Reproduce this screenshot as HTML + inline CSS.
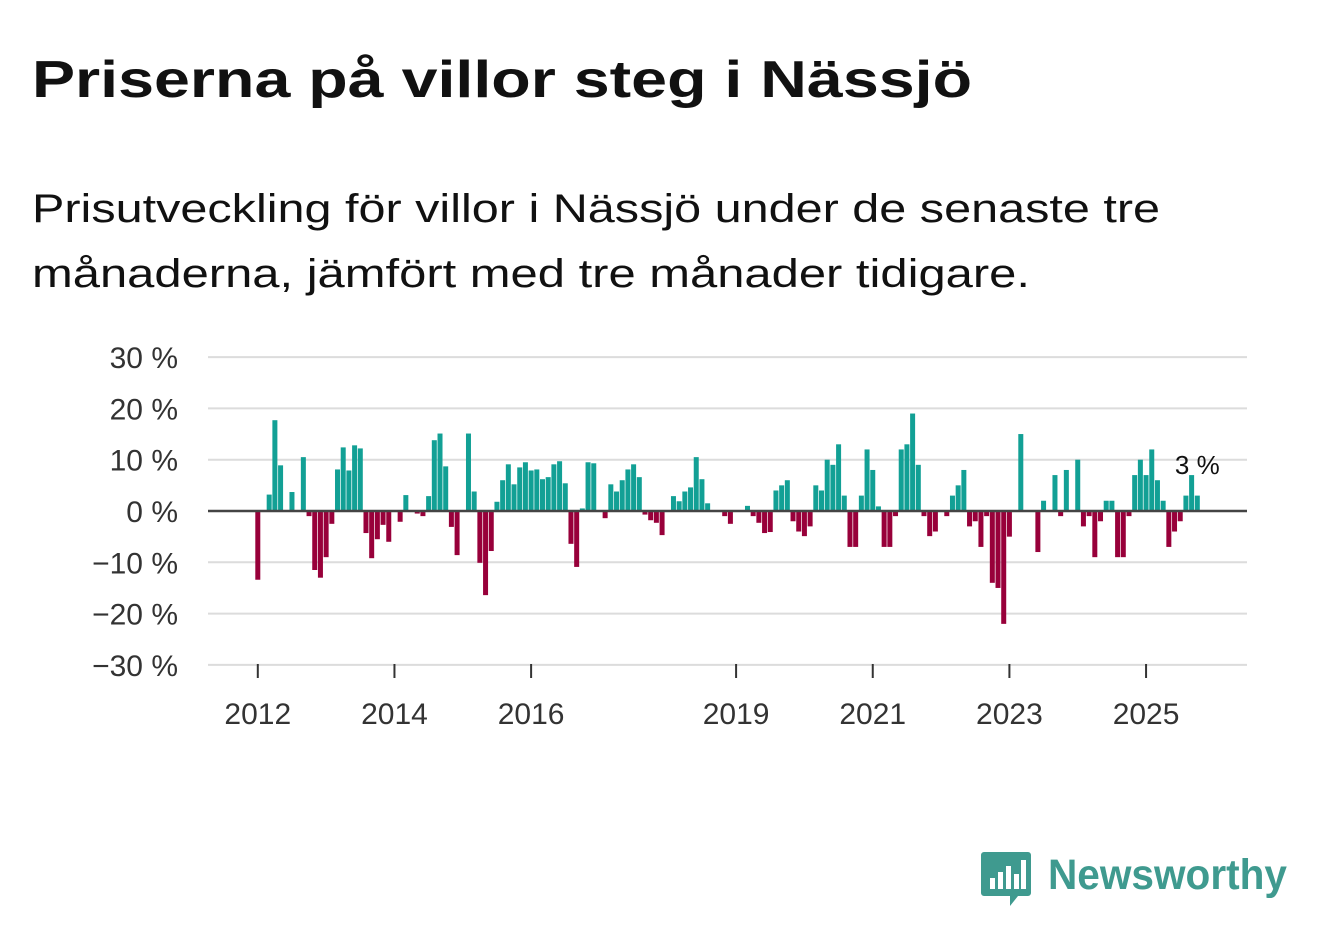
<!DOCTYPE html>
<html><head><meta charset="utf-8"><style>
html,body{margin:0;padding:0;background:#fff;}
svg{display:block;font-family:"Liberation Sans",sans-serif;}
</style></head><body>
<svg id="chart" width="1322" height="939" viewBox="0 0 1322 939" xmlns="http://www.w3.org/2000/svg">
<text x="32" y="97" font-size="52" font-weight="bold" fill="#111" textLength="940" lengthAdjust="spacingAndGlyphs">Priserna på villor steg i Nässjö</text>
<text x="32" y="222" font-size="40" fill="#111" textLength="1128" lengthAdjust="spacingAndGlyphs">Prisutveckling för villor i Nässjö under de senaste tre</text>
<text x="32" y="287" font-size="40" fill="#111" textLength="998" lengthAdjust="spacingAndGlyphs">månaderna, jämfört med tre månader tidigare.</text>
<g id="grid"></g>
<g id="bars"></g>
<g id="axes"></g>
<g>
<path d="M984 852 h44 a3 3 0 0 1 3 3 v38 a3 3 0 0 1 -3 3 h-10 l-8 10 v-10 h-26 a3 3 0 0 1 -3 -3 v-38 a3 3 0 0 1 3 -3z" fill="#3f9a8f"/>
<g fill="#fff"><rect x="990" y="878" width="5" height="11"/><rect x="998" y="872" width="5" height="17"/><rect x="1006" y="866" width="5" height="23"/><rect x="1014" y="874" width="5" height="15"/><rect x="1021" y="860" width="5" height="29"/></g>
<text x="1048" y="889" font-size="43" font-weight="bold" fill="#3f9a8f" textLength="239" lengthAdjust="spacingAndGlyphs">Newsworthy</text>
</g>
</svg>
<script>
const yTicks = [30, 20, 10, 0, -10, -20, -30];
const yTickLabels = ["30 %", "20 %", "10 %", "0 %", "−10 %", "−20 %", "−30 %"];
const xTickYears = [2012, 2014, 2016, 2019, 2021, 2023, 2025];
const xTickLabels = ["2012", "2014", "2016", "2019", "2021", "2023", "2025"];
const startYear = 2012;
const values = [-13.4,null,3.2,17.7,8.9,null,3.7,null,10.5,-1,-11.5,-13,-9,-2.5,8.1,12.4,7.9,12.8,12.2,-4.3,
-9.2,-5.5,-2.7,-6,null,-2.1,3.1,null,-0.5,-1,2.9,13.8,15.1,8.7,-3.1,-8.6,null,15.1,3.8,-10.1,
-16.4,-7.8,1.8,6,9.1,5.2,8.5,9.5,7.9,8.1,6.2,6.6,9.1,9.7,5.4,-6.4,-10.9,0.5,9.5,9.3,
null,-1.4,5.2,3.8,6,8.1,9.1,6.6,-0.7,-1.8,-2.3,-4.7,null,2.9,1.9,3.8,4.6,10.5,6.2,1.5,
null,null,-1,-2.5,null,null,1,-1,-2.3,-4.3,-4.1,4,5,6,-2,-4,-4.9,-3,5,4,
10,9,13,3,-7,-7,3,12,8,0.9,-7,-7,-1,12,13,19,9,-1,-4.9,-4,
null,-1,3,5,8,-3,-2,-7,-1,-14,-15,-22,-5,null,15,null,null,-8,2,null,
7,-1,8,null,10,-3,-1,-9,-2,2,2,-9,-9,-1,7,10,7,12,6,2,
-7,-4,-2,3,7,3];
const lastLabel = "3 %";

const NS = "http://www.w3.org/2000/svg";
const plotL = 208, plotR = 1247;
function yScale(v){ return 511 - v * 5.13; }
function xMonth(k){ return 257.8 + k * 5.694; }
function xYear(y){ return xMonth((y - startYear) * 12); }
function mk(tag, attrs, parent){ const e = document.createElementNS(NS, tag); for (const a in attrs) e.setAttribute(a, attrs[a]); parent.appendChild(e); return e; }

const grid = document.getElementById('grid'), bars = document.getElementById('bars'), axes = document.getElementById('axes');
yTicks.forEach((t, i) => {
  if (t !== 0) {
    const l = mk('line', {x1: plotL, x2: plotR, y1: yScale(t), y2: yScale(t), stroke: '#dcdcdc', 'stroke-width': 2}, grid);
    
    
  }
  const tx = mk('text', {x: 178, y: yScale(t) + 11, 'font-size': 30, fill: '#333', 'text-anchor': 'end'}, axes);
  tx.textContent = yTickLabels[i];
  
  
});
values.forEach((v, k) => {
  if (v === null) return;
  const y0 = yScale(0), y1 = yScale(v);
  const r = mk('rect', {x: xMonth(k) - 2.5, width: 5, y: Math.min(y0, y1), height: Math.abs(y1 - y0), fill: v >= 0 ? '#12a095' : '#98003a'}, bars);
  
  
});
const zl = mk('line', {x1: plotL, x2: plotR, y1: yScale(0), y2: yScale(0), stroke: '#444', 'stroke-width': 2.5}, axes);


xTickYears.forEach((yr, i) => {
  const x = xYear(yr);
  const tk = mk('line', {x1: x, x2: x, y1: 664, y2: 678, stroke: '#333', 'stroke-width': 2}, axes);
  
  
  const tx = mk('text', {x: x, y: 724, 'font-size': 30, fill: '#333', 'text-anchor': 'middle'}, axes);
  tx.textContent = xTickLabels[i];
  
  
});
const lastK = values.length - 1;
const lbl = mk('text', {x: xMonth(lastK), y: 474, 'font-size': 26, fill: '#111', 'text-anchor': 'middle'}, axes);
lbl.textContent = lastLabel;


</script>
</body></html>
